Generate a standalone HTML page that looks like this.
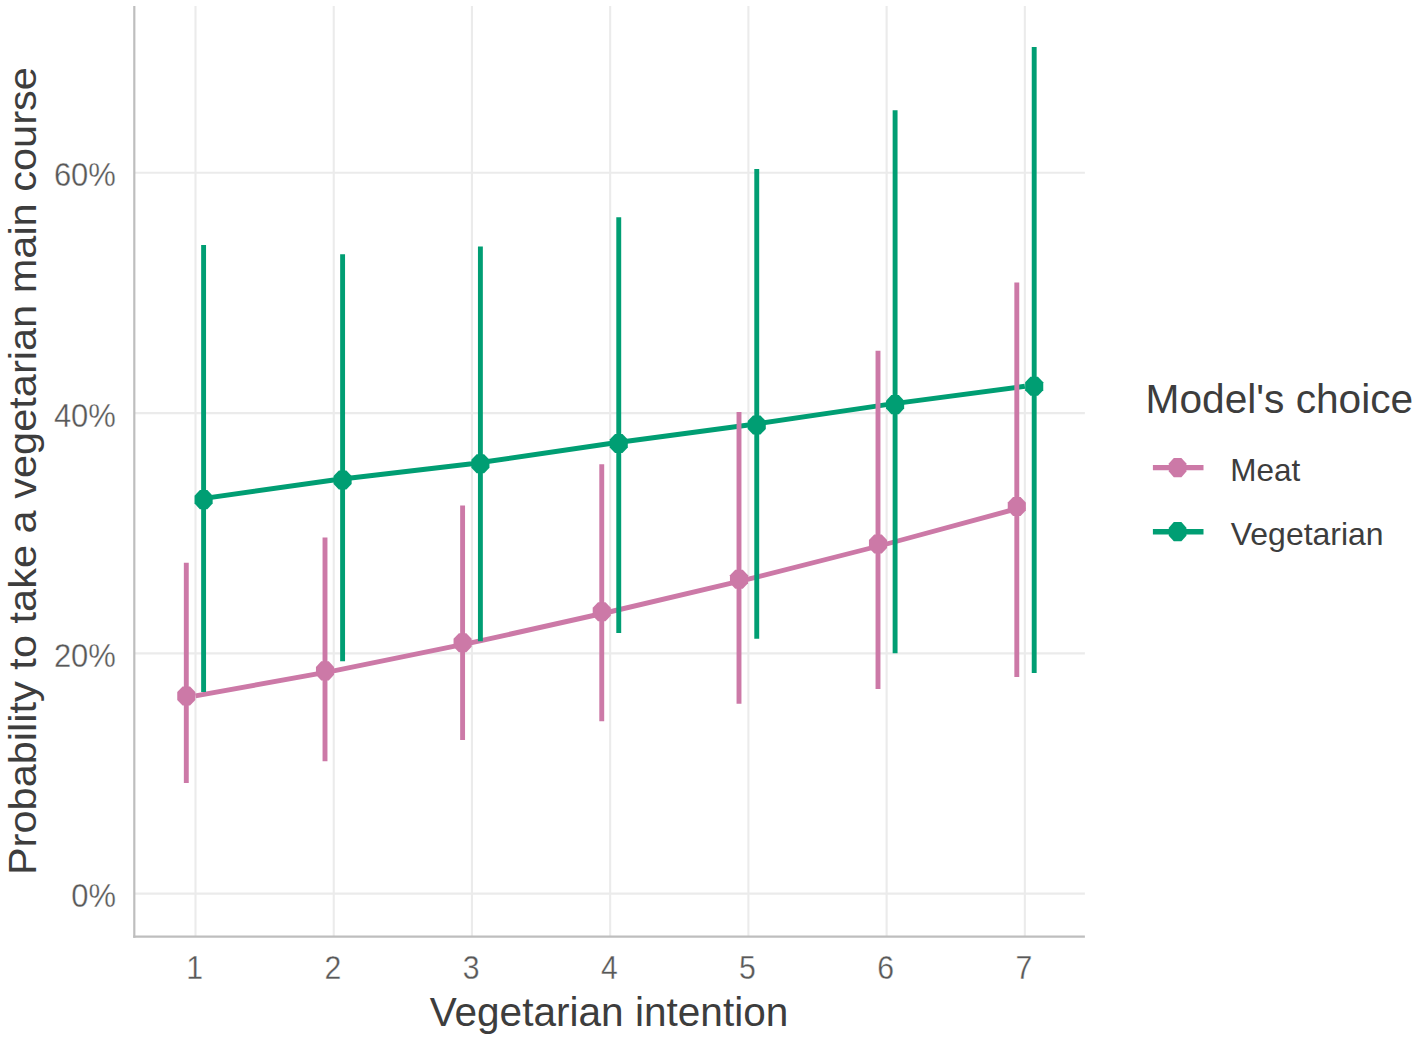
<!DOCTYPE html>
<html><head><meta charset="utf-8"><title>Chart</title>
<style>
html,body{margin:0;padding:0;background:#fff;}
body{width:1418px;height:1040px;overflow:hidden;}
svg{display:block;}
text{font-family:"Liberation Sans",sans-serif;}
.at{fill:#585858;font-size:33.1px;stroke:#fff;stroke-width:0.35px;}
.tt{fill:#3d3d3d;font-size:40px;}.ty{font-size:38.6px;}
.lt{fill:#3d3d3d;font-size:31.3px;}
</style></head><body>
<svg width="1418" height="1040" viewBox="0 0 1418 1040">
<rect width="1418" height="1040" fill="#ffffff"/>
<g stroke="#ebebeb" stroke-width="2.1" fill="none">
<line x1="134.3" x2="1084.9" y1="893.6" y2="893.6"/>
<line x1="134.3" x2="1084.9" y1="653.4" y2="653.4"/>
<line x1="134.3" x2="1084.9" y1="413.1" y2="413.1"/>
<line x1="134.3" x2="1084.9" y1="172.8" y2="172.8"/>
<line x1="195.50" x2="195.50" y1="6.0" y2="936.7"/>
<line x1="333.73" x2="333.73" y1="6.0" y2="936.7"/>
<line x1="471.95" x2="471.95" y1="6.0" y2="936.7"/>
<line x1="610.17" x2="610.17" y1="6.0" y2="936.7"/>
<line x1="748.40" x2="748.40" y1="6.0" y2="936.7"/>
<line x1="886.62" x2="886.62" y1="6.0" y2="936.7"/>
<line x1="1024.85" x2="1024.85" y1="6.0" y2="936.7"/>
</g>
<polyline points="195.50,695.95 333.73,670.85 471.95,642.7 610.17,611.75 748.40,579.2 886.62,544.0 1024.85,506.5" fill="none" stroke="#CC79A7" stroke-width="4.9" stroke-linejoin="round" stroke-linecap="butt"/>
<polyline points="195.50,499.6 333.73,480.0 471.95,463.75 610.17,443.5 748.40,425.0 886.62,404.6 1024.85,386.3" fill="none" stroke="#009E73" stroke-width="4.9" stroke-linejoin="round" stroke-linecap="butt"/>
<g stroke="#CC79A7" stroke-width="4.9">
<line x1="186.3" x2="186.3" y1="562.75" y2="783.0"/>
<line x1="325.0" x2="325.0" y1="537.5" y2="761.25"/>
<line x1="462.6" x2="462.6" y1="505.5" y2="740.0"/>
<line x1="601.75" x2="601.75" y1="464.25" y2="721.25"/>
<line x1="739.0" x2="739.0" y1="412.0" y2="703.75"/>
<line x1="878.0" x2="878.0" y1="350.7" y2="689.0"/>
<line x1="1016.8" x2="1016.8" y1="282.5" y2="677.1"/>
</g>
<g stroke="#009E73" stroke-width="4.9">
<line x1="203.6" x2="203.6" y1="245.0" y2="692.0"/>
<line x1="342.6" x2="342.6" y1="254.25" y2="661.25"/>
<line x1="480.4" x2="480.4" y1="246.5" y2="641.2"/>
<line x1="618.75" x2="618.75" y1="217.2" y2="633.0"/>
<line x1="756.75" x2="756.75" y1="169.1" y2="638.75"/>
<line x1="895.1" x2="895.1" y1="110.2" y2="653.2"/>
<line x1="1034.2" x2="1034.2" y1="47.1" y2="673.1"/>
</g>
<g fill="#CC79A7">
<polygon points="182.55,686.40 190.05,686.40 195.35,692.00 195.35,699.90 190.05,705.50 182.55,705.50 177.25,699.90 177.25,692.00"/>
<polygon points="321.25,661.30 328.75,661.30 334.05,666.90 334.05,674.80 328.75,680.40 321.25,680.40 315.95,674.80 315.95,666.90"/>
<polygon points="458.85,633.15 466.35,633.15 471.65,638.75 471.65,646.65 466.35,652.25 458.85,652.25 453.55,646.65 453.55,638.75"/>
<polygon points="598.00,602.20 605.50,602.20 610.80,607.80 610.80,615.70 605.50,621.30 598.00,621.30 592.70,615.70 592.70,607.80"/>
<polygon points="735.25,569.65 742.75,569.65 748.05,575.25 748.05,583.15 742.75,588.75 735.25,588.75 729.95,583.15 729.95,575.25"/>
<polygon points="874.25,534.45 881.75,534.45 887.05,540.05 887.05,547.95 881.75,553.55 874.25,553.55 868.95,547.95 868.95,540.05"/>
<polygon points="1013.05,496.95 1020.55,496.95 1025.85,502.55 1025.85,510.45 1020.55,516.05 1013.05,516.05 1007.75,510.45 1007.75,502.55"/>
</g>
<g fill="#009E73">
<polygon points="199.85,490.05 207.35,490.05 212.65,495.65 212.65,503.55 207.35,509.15 199.85,509.15 194.55,503.55 194.55,495.65"/>
<polygon points="338.85,470.45 346.35,470.45 351.65,476.05 351.65,483.95 346.35,489.55 338.85,489.55 333.55,483.95 333.55,476.05"/>
<polygon points="476.65,454.20 484.15,454.20 489.45,459.80 489.45,467.70 484.15,473.30 476.65,473.30 471.35,467.70 471.35,459.80"/>
<polygon points="615.00,433.95 622.50,433.95 627.80,439.55 627.80,447.45 622.50,453.05 615.00,453.05 609.70,447.45 609.70,439.55"/>
<polygon points="753.00,415.45 760.50,415.45 765.80,421.05 765.80,428.95 760.50,434.55 753.00,434.55 747.70,428.95 747.70,421.05"/>
<polygon points="891.35,395.05 898.85,395.05 904.15,400.65 904.15,408.55 898.85,414.15 891.35,414.15 886.05,408.55 886.05,400.65"/>
<polygon points="1030.45,376.75 1037.95,376.75 1043.25,382.35 1043.25,390.25 1037.95,395.85 1030.45,395.85 1025.15,390.25 1025.15,382.35"/>
</g>
<g stroke="#bebebe" stroke-width="2.2" fill="none"><line x1="134.3" x2="134.3" y1="6.0" y2="937.8000000000001"/><line x1="133.20000000000002" x2="1084.9" y1="936.7" y2="936.7"/></g>
<text class="at" x="71.2" y="907.0" textLength="44.7" lengthAdjust="spacingAndGlyphs">0%</text>
<text class="at" x="53.9" y="666.8" textLength="62.0" lengthAdjust="spacingAndGlyphs">20%</text>
<text class="at" x="53.9" y="426.5" textLength="62.0" lengthAdjust="spacingAndGlyphs">40%</text>
<text class="at" x="53.9" y="186.2" textLength="62.0" lengthAdjust="spacingAndGlyphs">60%</text>
<text class="at" x="186.2" y="978.9" textLength="16.8" lengthAdjust="spacingAndGlyphs">1</text>
<text class="at" x="324.4" y="978.9" textLength="16.8" lengthAdjust="spacingAndGlyphs">2</text>
<text class="at" x="462.7" y="978.9" textLength="16.8" lengthAdjust="spacingAndGlyphs">3</text>
<text class="at" x="600.9" y="978.9" textLength="16.8" lengthAdjust="spacingAndGlyphs">4</text>
<text class="at" x="739.1" y="978.9" textLength="16.8" lengthAdjust="spacingAndGlyphs">5</text>
<text class="at" x="877.3" y="978.9" textLength="16.8" lengthAdjust="spacingAndGlyphs">6</text>
<text class="at" x="1015.5" y="978.9" textLength="16.8" lengthAdjust="spacingAndGlyphs">7</text>
<text class="tt" x="429.7" y="1025.9" textLength="358.6" lengthAdjust="spacingAndGlyphs">Vegetarian intention</text>
<text class="tt ty" transform="translate(36.4,875.1) rotate(-90)" textLength="808" lengthAdjust="spacingAndGlyphs">Probability to take a vegetarian main course</text>
<text class="tt" x="1145.6" y="412.9" textLength="267.6" lengthAdjust="spacingAndGlyphs">Model's choice</text>
<line x1="1152.9" x2="1203.5" y1="467.6" y2="467.6" stroke="#CC79A7" stroke-width="5.4"/>
<polygon fill="#CC79A7" points="1173.80,458.00 1181.40,458.00 1186.40,463.60 1186.40,471.60 1181.40,477.20 1173.80,477.20 1168.80,471.60 1168.80,463.60"/>
<text class="lt" x="1230.3" y="480.7" textLength="70.0" lengthAdjust="spacingAndGlyphs">Meat</text>
<line x1="1152.9" x2="1203.5" y1="531.7" y2="531.7" stroke="#009E73" stroke-width="5.4"/>
<polygon fill="#009E73" points="1173.80,522.10 1181.40,522.10 1186.40,527.70 1186.40,535.70 1181.40,541.30 1173.80,541.30 1168.80,535.70 1168.80,527.70"/>
<text class="lt" x="1230.8" y="544.8" textLength="152.8" lengthAdjust="spacingAndGlyphs">Vegetarian</text>
</svg>
</body></html>
